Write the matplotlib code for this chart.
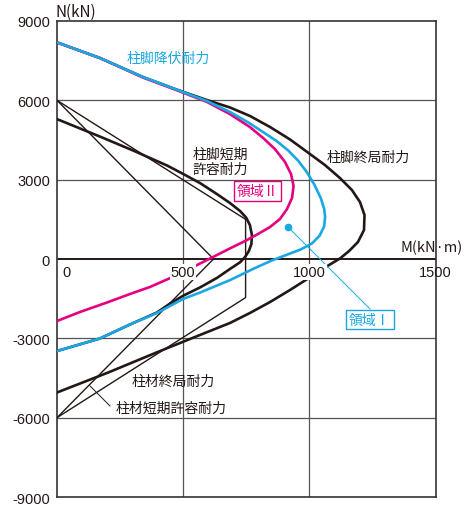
import matplotlib
matplotlib.use("Agg")
import matplotlib.pyplot as plt

plt.rcParams['font.family'] = ['Noto Sans CJK JP', 'DejaVu Sans']

# ---- data (M in kN·m, N in kN) ----
# 柱脚降伏耐力 (cyan)
yield_M = [0, 170, 341, 467, 594, 685, 760, 816, 870, 915, 955, 990, 1020, 1045, 1058, 1062, 1058, 1040,
           1010, 965, 910, 850, 780, 685, 566, 499, 396, 289, 170, 0]
yield_N = [8190, 7600, 6880, 6430, 5975, 5560, 5150, 4800, 4460, 4110, 3720, 3280, 2800, 2300, 1900, 1600,
           1230, 880, 590, 360, 160, -60, -360, -800, -1270, -1513, -2042, -2477, -3006, -3480]

# 領域II boundary (magenta)
reg2_M = [0, 170, 341, 467, 594, 685, 764, 816, 863, 903, 927, 937, 931, 911, 883, 844, 796, 745,
          685, 618, 547, 467, 368, 289, 198, 91, 0]
reg2_N = [8190, 7600, 6860, 6410, 5940, 5480, 4990, 4580, 4160, 3670, 3210, 2760, 2310, 1890, 1510,
          1210, 945, 680, 400, 76, -265, -643, -1059, -1324, -1645, -2004, -2345]

# 柱脚終局耐力 (thick black, outer)
ult_M = [0, 170, 341, 467, 594, 685, 764, 844, 923, 1002, 1061, 1121, 1168, 1200, 1218, 1216, 1192,
         1157, 1121, 1061, 1002, 923, 844, 764, 685, 566, 396, 198, 0]
ult_N = [8190, 7600, 6880, 6430, 6010, 5730, 5410, 4990, 4520, 3970, 3555, 3060, 2610, 2155, 1665,
         1095, 643, 303, 20, -321, -692, -1172, -1626, -2042, -2420, -2874, -3528, -4311, -5048]

# 柱脚短期許容耐力 (thick black, inner)
allow_M = [0, 170, 302, 436, 500, 566, 633, 685, 725, 749, 764, 772, 770, 760, 745, 725, 685, 633,
           566, 500, 448, 396, 289, 170, 0]
allow_N = [5290, 4630, 4100, 3535, 3215, 2874, 2458, 2118, 1815, 1569, 1286, 908, 567, 303, 76, -125,
           -378, -719, -1078, -1388, -1683, -2023, -2477, -3006, -3480]

# 柱材終局耐力 (thin polygon)
col_ult_M = [0, 747, 747, 0]
col_ult_N = [6000, 1500, -1460, -6000]

# 柱材短期許容耐力 (thin diamond)
col_allow_M = [0, 620, 0]
col_allow_N = [6000, 0, -6000]

y_ticks = [9000, 6000, 3000, 0, -3000, -6000, -9000]
x_ticks = [500, 1000, 1500]

CYAN = '#1aa8e2'
MAG = '#e5007f'
BLK = '#231815'

fig = plt.figure(figsize=(4.65, 5.06), dpi=100)
ax = fig.add_axes([57 / 465, 1 - 498 / 506, 378.7 / 465, 476 / 506])
ax.set_xlim(0, 1500)
ax.set_ylim(-9000, 9000)

# grid
for x in x_ticks[:-1]:
    ax.axvline(x, color='#555555', lw=0.9, zorder=1)
for y in [6000, 3000, -3000, -6000]:
    ax.axhline(y, color='#555555', lw=0.9, zorder=1)
ax.axhline(0, color=BLK, lw=1.4, zorder=1.5)

for s in ax.spines.values():
    s.set_color('#333333')
    s.set_linewidth(1.2)

ax.set_xticks([])
ax.set_yticks(y_ticks)
ax.set_yticklabels([str(v) for v in y_ticks], family='Liberation Sans', fontsize=10.5, color=BLK)
ax.tick_params(axis='y', length=0, pad=5)

# x tick labels inside plot under the zero line
ax.text(38, -490, '0', ha='center', va='center', family='Liberation Sans', fontsize=10.5, color=BLK)
for x in x_ticks:
    ax.text(x, -490, str(x), ha='center', va='center', family='Liberation Sans', fontsize=10.5,
            color=BLK, zorder=8,
            bbox=dict(boxstyle='square,pad=0.05', fc='white', ec='none') if x < 1500 else None)

# curves
ax.plot(col_allow_M, col_allow_N, color=BLK, lw=1.0, zorder=3)
ax.plot(col_ult_M, col_ult_N, color=BLK, lw=1.0, zorder=3)
ax.plot(allow_M, allow_N, color=BLK, lw=1.9, zorder=4, solid_joinstyle='round')
ax.plot(ult_M, ult_N, color=BLK, lw=1.9, zorder=4, solid_joinstyle='round')
ax.plot(reg2_M, reg2_N, color=MAG, lw=1.9, zorder=5, solid_joinstyle='round')
ax.plot(yield_M, yield_N, color=CYAN, lw=1.9, zorder=6, solid_joinstyle='round')

# annotations
fs = 10
ax.text(277, 7600, '柱脚降伏耐力', color=CYAN, fontsize=fs, va='center', ha='left')
ax.text(535, 3706, '柱脚短期\n許容耐力', color=BLK, fontsize=fs, va='center', ha='left',
        linespacing=1.1)
ax.text(1069, 3857, '柱脚終局耐力', color=BLK, fontsize=fs, va='center', ha='left')
ax.text(794, 2571, '領域Ⅱ', color=MAG, fontsize=fs, va='center', ha='center', zorder=7,
        bbox=dict(boxstyle='square,pad=0.2', fc='white', ec=MAG, lw=1.0))
ax.plot([916, 1240], [1199, -1891], color=CYAN, lw=0.7, zorder=6)
ax.plot([916], [1199], 'o', color=CYAN, ms=4.5, zorder=7)
ax.text(1240, -2288, '領域Ⅰ', color=CYAN, fontsize=fs, va='center', ha='center', zorder=7,
        bbox=dict(boxstyle='square,pad=0.2', fc='white', ec=CYAN, lw=1.0))
ax.text(297, -4614, '柱材終局耐力', color=BLK, fontsize=fs, va='center', ha='left')
ax.text(230, -5635, '柱材短期許容耐力', color=BLK, fontsize=fs, va='center', ha='left')
ax.plot([131, 210], [-4803, -5559], color=BLK, lw=0.7, zorder=3)

fig.text(55 / 465, 1 - 12 / 506, 'N(kN)', fontsize=11, color=BLK, va='center', ha='left')
fig.text(463 / 465, 1 - 248 / 506, 'M(kN·m)', fontsize=10.5, color=BLK, va='center', ha='right')

fig.savefig('out.png', dpi=100)
